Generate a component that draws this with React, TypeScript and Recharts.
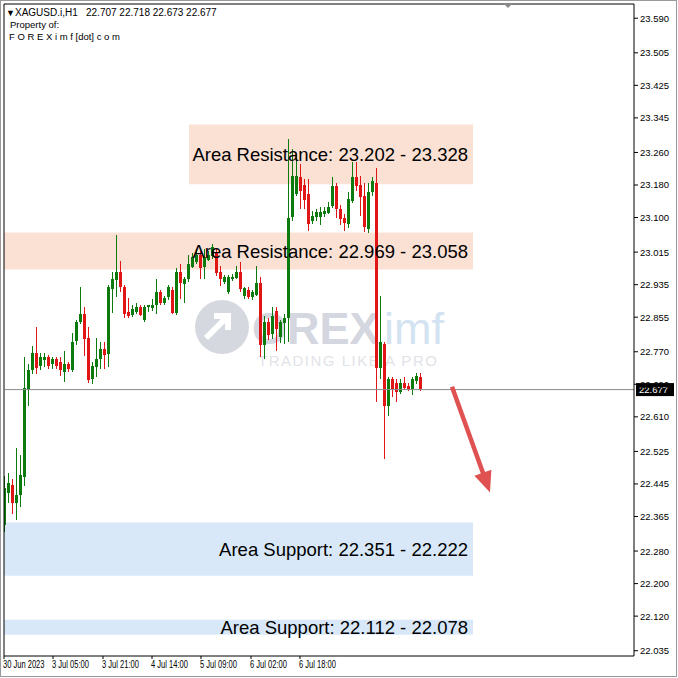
import { Bar, ComposedChart, ReferenceArea, ReferenceLine, XAxis, YAxis } from "recharts";

// XAGUSD H1 candles
const opens = [
  22.345, 22.423, 22.443, 22.399, 22.419, 22.463, 22.677, 22.726, 22.768, 22.734,
  22.751, 22.756, 22.739, 22.751, 22.746, 22.719, 22.739, 22.726, 22.795, 22.842,
  22.862, 22.805, 22.702, 22.731, 22.751, 22.778, 22.763, 22.923, 22.948, 22.965,
  22.928, 22.867, 22.859, 22.869, 22.881, 22.849, 22.879, 22.879, 22.886, 22.918,
  22.891, 22.903, 22.923, 22.867, 22.967, 22.935, 22.948, 22.98, 22.992, 23.009,
  22.98, 22.997, 23.004, 23.014, 22.965, 22.94, 22.916, 22.948, 22.953, 22.965,
  22.906, 22.923, 22.903, 22.911, 22.94, 22.788, 22.844, 22.812, 22.869, 22.805,
  22.842, 22.854, 23.1, 23.157, 23.199, 23.181, 23.157, 23.09, 23.1, 23.1,
  23.108, 23.113, 23.127, 23.177, 23.12, 23.1, 23.083, 23.14, 23.199, 23.181,
  23.152, 23.071, 23.162, 23.186, 22.731, 22.788, 22.635, 22.702, 22.694, 22.672,
  22.694, 22.687, 22.677, 22.699, 22.707,
];
const highs = [
  22.465, 22.473, 22.456, 22.534, 22.517, 22.756, 22.739, 22.783, 22.83, 22.768,
  22.768, 22.761, 22.756, 22.756, 22.756, 22.771, 22.746, 22.817, 22.849, 22.928,
  22.879, 22.832, 22.744, 22.805, 22.793, 22.793, 22.935, 22.967, 23.058, 22.992,
  22.935, 22.903, 22.884, 22.891, 22.886, 22.886, 22.886, 22.899, 22.948, 22.923,
  22.908, 22.935, 22.928, 22.977, 22.985, 22.955, 23.009, 23.014, 23.022, 23.017,
  23.022, 23.017, 23.034, 23.022, 22.98, 22.958, 22.958, 22.96, 22.98, 22.99,
  22.93, 22.928, 22.923, 22.98, 22.955, 22.857, 22.854, 22.879, 22.879, 22.849,
  22.862, 23.292, 23.268, 23.255, 23.231, 23.194, 23.194, 23.115, 23.12, 23.127,
  23.125, 23.137, 23.199, 23.186, 23.132, 23.108, 23.164, 23.236, 23.236, 23.201,
  23.186, 23.186, 23.199, 23.223, 22.906, 22.793, 22.707, 22.709, 22.702, 22.702,
  22.709, 22.694, 22.709, 22.718, 22.718,
];
const lows = [
  22.327, 22.399, 22.369, 22.357, 22.389, 22.438, 22.635, 22.714, 22.714, 22.726,
  22.734, 22.726, 22.726, 22.726, 22.709, 22.694, 22.721, 22.721, 22.788, 22.837,
  22.758, 22.694, 22.689, 22.709, 22.726, 22.726, 22.734, 22.867, 22.906, 22.916,
  22.854, 22.854, 22.854, 22.864, 22.859, 22.844, 22.869, 22.869, 22.862, 22.886,
  22.886, 22.899, 22.862, 22.862, 22.899, 22.891, 22.943, 22.977, 22.985, 22.948,
  22.948, 22.992, 22.997, 22.955, 22.93, 22.935, 22.911, 22.943, 22.948, 22.916,
  22.901, 22.899, 22.899, 22.906, 22.758, 22.751, 22.8, 22.8, 22.77, 22.793,
  22.788, 22.793, 23.09, 23.152, 23.12, 23.12, 23.066, 23.083, 23.09, 23.083,
  23.1, 23.108, 23.122, 23.1, 23.083, 23.066, 23.076, 23.135, 23.164, 23.103,
  23.066, 23.063, 23.152, 22.647, 22.702, 22.505, 22.61, 22.66, 22.645, 22.665,
  22.677, 22.674, 22.665, 22.692, 22.673,
];
const closes = [
  22.436, 22.448, 22.399, 22.419, 22.468, 22.682, 22.726, 22.768, 22.731, 22.756,
  22.758, 22.734, 22.751, 22.734, 22.726, 22.739, 22.726, 22.795, 22.842, 22.862,
  22.8, 22.702, 22.734, 22.751, 22.776, 22.763, 22.928, 22.948, 22.967, 22.928,
  22.862, 22.857, 22.874, 22.881, 22.862, 22.881, 22.884, 22.886, 22.918, 22.891,
  22.903, 22.928, 22.867, 22.967, 22.94, 22.948, 22.985, 23.004, 23.009, 22.977,
  23.004, 23.009, 23.027, 22.965, 22.948, 22.953, 22.953, 22.953, 22.967, 22.923,
  22.926, 22.906, 22.916, 22.94, 22.788, 22.844, 22.812, 22.857, 22.825, 22.842,
  22.854, 23.1, 23.201, 23.201, 23.164, 23.145, 23.083, 23.103, 23.113, 23.113,
  23.115, 23.127, 23.177, 23.12, 23.095, 23.088, 23.145, 23.199, 23.177, 23.152,
  23.076, 23.162, 23.189, 22.731, 22.795, 22.635, 22.702, 22.677, 22.672, 22.694,
  22.682, 22.677, 22.702, 22.711, 22.677,
];

const priceTicks = [
  23.59, 23.505, 23.425, 23.345, 23.26, 23.18, 23.1, 23.015, 22.935, 22.855,
  22.77, 22.69, 22.61, 22.525, 22.445, 22.365, 22.28, 22.2, 22.12, 22.035,
];
const timeTicks = [-0.25, 12, 24.5, 36.75, 49, 61.5, 73.75];
const timeLabels = ["30 Jun 2023", "3 Jul 05:00", "3 Jul 21:00", "4 Jul 14:00", "5 Jul 09:00", "6 Jul 02:00", "6 Jul 18:00"];

// zones drawn on the chart
const zoneLabels = [
  "Area Resistance: 23.202 - 23.328",
  "Area Resistance: 22.969 - 23.058",
  "Area Support: 22.351 - 22.222",
  "Area Support: 22.112 - 22.078",
];
const zoneLows = [23.182, 22.972, 22.219, 22.074];
const zoneHighs = [23.329, 23.063, 22.35, 22.111];
const zoneStarts = [46, -0.25, -0.25, -0.25];
const zoneEnd = 117;

const arrowFrom = { x: 111.75, y: 22.684 };
const arrowTo = { x: 121.25, y: 22.424 };

const symbol = "XAGUSD.i,H1";

const X_DOMAIN: [number, number] = [-0.25, 157.25];
const Y_DOMAIN: [number, number] = [22.022, 23.625];

const BULL = "#0d7a0d";
const BEAR = "#e01616";
const ARROW = "#e05252";
const FONT = "'Liberation Sans', Arial, sans-serif";

const candles = opens.map((o, i) => ({ i, o, h: highs[i], l: lows[i], c: closes[i] }));
const lastPrice = closes[closes.length - 1];

function Candle(props: any) {
  const { x, y, width, height, payload } = props;
  if (x == null || y == null || !payload) return null;
  const top = Math.min(y, y + height);
  const span = Math.abs(height);
  const range = payload.h - payload.l;
  const k = range > 0 ? span / range : 0;
  const yo = top + (payload.h - payload.o) * k;
  const yc = top + (payload.h - payload.c) * k;
  const color = payload.c >= payload.o ? BULL : BEAR;
  const cx = Math.floor(x + width / 2 + 0.01);
  const bodyTop = Math.round(Math.min(yo, yc));
  const bodyH = Math.max(1, Math.round(Math.abs(yc - yo)));
  return (
    <g shapeRendering="crispEdges">
      <rect x={cx} y={Math.round(top)} width={1} height={Math.max(1, Math.round(span))} fill={color} />
      <rect x={cx - 1} y={bodyTop} width={3} height={bodyH} fill={color} />
    </g>
  );
}

function PriceTick({ x, y, payload }: any) {
  return (
    <text x={x} y={y} dy={3.5} fontSize={9.5} fontFamily={FONT} fill="#000" textAnchor="start">
      {Number(payload.value).toFixed(3)}
    </text>
  );
}

function TimeTick({ x, y, payload, index }: any) {
  return (
    <text
      transform={`translate(${x - 1},${y + 6.5}) scale(0.72,1)`}
      fontSize={10.5}
      fontFamily={FONT}
      fill="#000"
      textAnchor="start"
    >
      {timeLabels[index] ?? String(payload.value)}
    </text>
  );
}

function PriceTag({ viewBox }: any) {
  if (!viewBox) return null;
  const right = viewBox.x + viewBox.width;
  return (
    <g>
      <rect x={right + 2} y={viewBox.y - 6.5} width={38} height={13} fill="#000" />
      <text x={right + 5} y={viewBox.y + 3.5} fontSize={9.5} fontFamily={FONT} fill="#fff">
        {lastPrice.toFixed(3)}
      </text>
    </g>
  );
}

function Arrow(props: any) {
  const { x1, y1, x2, y2 } = props;
  if ([x1, y1, x2, y2].some((v) => v == null || isNaN(v))) return null;
  const dx = x2 - x1;
  const dy = y2 - y1;
  const len = Math.hypot(dx, dy) || 1;
  const ux = dx / len;
  const uy = dy / len;
  const headLen = 21;
  const headW = 9;
  const bx = x2 - ux * headLen;
  const by = y2 - uy * headLen;
  return (
    <g>
      <line x1={x1} y1={y1} x2={bx + ux * 3} y2={by + uy * 3} stroke={ARROW} strokeWidth={4.5} />
      <polygon
        points={`${x2},${y2} ${bx - uy * headW},${by + ux * headW} ${bx + uy * headW},${by - ux * headW}`}
        fill={ARROW}
      />
    </g>
  );
}

export default function App() {
  return (
    <div style={{ position: "absolute", left: 0, top: 0, width: 678, height: 678, background: "#fff", overflow: "hidden" }}>
      {/* watermark behind the chart */}
      <svg width={678} height={678} style={{ position: "absolute", left: 0, top: 0, zIndex: 0 }}>
        <circle cx={222} cy={327} r={27} fill="#d6d8e0" />
        <path d="M206 338 L226 318 M214 316 L228 316 L228 330" stroke="#fff" strokeWidth={6} fill="none" />
        <text x={252} y={344} fontSize={45} fontWeight="bold" fontFamily={FONT} fill="#d4d6e0">OREX</text>
        <text x={384} y={344} fontSize={45} fontFamily={FONT} fill="#d3e3f2">imf</text>
        <text x={258} y={366} fontSize={15} letterSpacing={1.5} fontFamily={FONT} fill="#e2e3e8">TRADING LIKE A PRO</text>
      </svg>

      <div style={{ position: "absolute", left: 0, top: 0, zIndex: 1 }}>
        <ComposedChart
          width={678}
          height={678}
          data={candles}
          margin={{ top: 4, right: 0, bottom: 0, left: 4 }}
          style={{ fontFamily: FONT }}
        >
          <XAxis
            dataKey="i"
            type="number"
            domain={X_DOMAIN}
            ticks={timeTicks}
            interval={0}
            allowDataOverflow
            height={22}
            tickSize={3}
            tickMargin={2}
            axisLine={{ stroke: "#000" }}
            tickLine={{ stroke: "#000" }}
            tick={<TimeTick />}
          />
          <YAxis
            orientation="right"
            type="number"
            domain={Y_DOMAIN}
            ticks={priceTicks}
            interval={0}
            allowDataOverflow
            width={44}
            tickSize={4}
            tickMargin={2}
            axisLine={{ stroke: "#000" }}
            tickLine={{ stroke: "#000" }}
            tick={<PriceTick />}
          />

          {zoneLabels.map((label, k) => (
            <ReferenceArea
              key={label}
              x1={zoneStarts[k]}
              x2={zoneEnd}
              y1={zoneLows[k]}
              y2={zoneHighs[k]}
              fill={k < 2 ? "#fbe0d4" : "#d8e8f8"}
              fillOpacity={1}
              stroke="none"
              label={{ value: label, position: "insideRight", offset: 5, fill: "#000", fontSize: 18.5, fontFamily: FONT }}
            />
          ))}

          <ReferenceLine x={X_DOMAIN[0]} stroke="#000" />
          <ReferenceLine y={Y_DOMAIN[1]} stroke="#000" />
          <ReferenceLine y={lastPrice} stroke="#8a8a8a" label={<PriceTag />} />

          <Bar dataKey={(d: any) => [d.l, d.h]} barSize={3} shape={<Candle />} isAnimationActive={false} />

          <ReferenceLine segment={[arrowFrom, arrowTo]} shape={<Arrow />} />
        </ComposedChart>
      </div>

      {/* header and frame */}
      <svg width={678} height={678} style={{ position: "absolute", left: 0, top: 0, zIndex: 2, pointerEvents: "none" }}>
        <text x={6} y={16} fontSize={9} fontFamily={FONT} fill="#000">▼</text>
        <text x={15} y={16} fontSize={10} fontFamily={FONT} fill="#000">{symbol}</text>
        <text x={86} y={16} fontSize={10} fontFamily={FONT} fill="#000">
          {[opens, highs, lows, closes].map((a) => a[a.length - 1].toFixed(3)).join(" ")}
        </text>
        <text x={10} y={28} fontSize={9.5} fontFamily={FONT} fill="#000">Property of:</text>
        <text x={9} y={40} fontSize={9.5} fontFamily={FONT} fill="#000">F O R E X i m f [dot] c o m</text>
        <polygon points="503,3 513,3 508,8" fill="#8a8a8a" />
        <rect x={0.5} y={0.5} width={676} height={676} fill="none" stroke="#9a9a9a" />
      </svg>
    </div>
  );
}
